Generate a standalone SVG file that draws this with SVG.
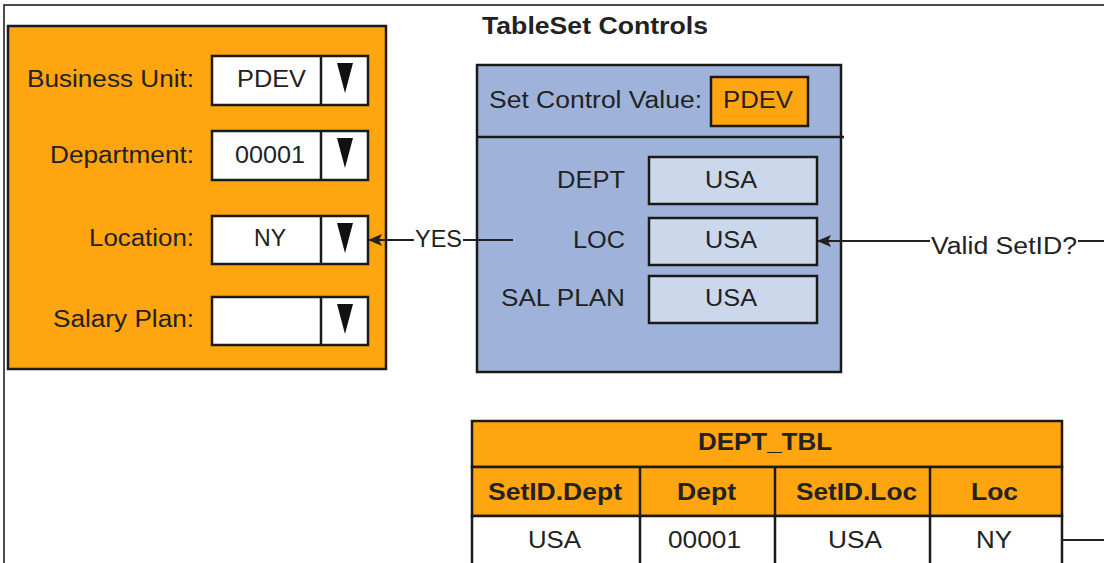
<svg xmlns="http://www.w3.org/2000/svg" width="1104" height="563" viewBox="0 0 1104 563">
<style>
.t{font-family:"Liberation Sans",Arial,sans-serif;font-size:23px;fill:#222}
.b{font-weight:bold}
.bx{stroke:#1a1a1a;stroke-width:2.5}
.or{fill:#FFA50F}
.wh{fill:#fff}
.bl{fill:#9FB3DA}
.lb{fill:#CBD8EB}
.ln{fill:none;stroke:#222;stroke-width:2}
</style>
<defs>
<marker id="ah" markerWidth="14" markerHeight="12" refX="13" refY="6" orient="auto" markerUnits="userSpaceOnUse">
<path d="M0,0 L14,6 L0,12 L3,6 Z" fill="#222"/>
</marker>
</defs>
<rect width="1104" height="563" fill="#fff"/>
<path d="M4,563 V5 H1104" fill="none" stroke="#111" stroke-width="1.5"/>

<g id="page-panel">
<rect class="or bx" x="8" y="26" width="378" height="343"/>
<text class="t" x="27" y="87" textLength="167" lengthAdjust="spacingAndGlyphs">Business Unit:</text>
<text class="t" x="50" y="163" textLength="144" lengthAdjust="spacingAndGlyphs">Department:</text>
<text class="t" x="89" y="246" textLength="105" lengthAdjust="spacingAndGlyphs">Location:</text>
<text class="t" x="53" y="327" textLength="141" lengthAdjust="spacingAndGlyphs">Salary Plan:</text>
<g id="dd-bu">
<rect class="wh bx" x="212" y="56" width="156" height="49"/>
<line class="bx" x1="321" y1="56" x2="321" y2="105"/>
<path d="M337,63 H353 L345,93 Z" fill="#111"/>
<text class="t" x="237" y="87" textLength="69" lengthAdjust="spacingAndGlyphs">PDEV</text>
</g>
<g id="dd-dept">
<rect class="wh bx" x="212" y="131" width="156" height="49"/>
<line class="bx" x1="321" y1="131" x2="321" y2="180"/>
<path d="M337,138 H353 L345,168 Z" fill="#111"/>
<text class="t" x="235" y="163" textLength="70" lengthAdjust="spacingAndGlyphs">00001</text>
</g>
<g id="dd-loc">
<rect class="wh bx" x="212" y="216" width="156" height="48"/>
<line class="bx" x1="321" y1="216" x2="321" y2="264"/>
<path d="M337,223 H353 L345,253 Z" fill="#111"/>
<text class="t" x="254" y="246" textLength="32" lengthAdjust="spacingAndGlyphs">NY</text>
</g>
<g id="dd-sal">
<rect class="wh bx" x="212" y="297" width="156" height="48"/>
<line class="bx" x1="321" y1="297" x2="321" y2="345"/>
<path d="M337,304 H353 L345,334 Z" fill="#111"/>
</g>
</g>

<g id="tableset-controls">
<text class="t b" x="482" y="34" textLength="226" lengthAdjust="spacingAndGlyphs">TableSet Controls</text>
<rect class="bl bx" x="477" y="65" width="364" height="307"/>
<line class="bx" x1="477" y1="137" x2="844" y2="137"/>
<text class="t" x="489" y="108" textLength="213" lengthAdjust="spacingAndGlyphs">Set Control Value:</text>
<rect class="or bx" x="711" y="77" width="97" height="49"/>
<text class="t" x="723" y="108" textLength="70" lengthAdjust="spacingAndGlyphs">PDEV</text>
<text class="t" x="557" y="188" textLength="68" lengthAdjust="spacingAndGlyphs">DEPT</text>
<rect class="lb bx" x="649" y="157" width="168" height="47"/>
<text class="t" x="705" y="188" textLength="52" lengthAdjust="spacingAndGlyphs">USA</text>
<text class="t" x="573" y="248" textLength="52" lengthAdjust="spacingAndGlyphs">LOC</text>
<rect class="lb bx" x="649" y="218" width="168" height="47"/>
<text class="t" x="705" y="248" textLength="52" lengthAdjust="spacingAndGlyphs">USA</text>
<text class="t" x="501" y="306" textLength="124" lengthAdjust="spacingAndGlyphs">SAL PLAN</text>
<rect class="lb bx" x="649" y="276" width="168" height="47"/>
<text class="t" x="705" y="306" textLength="52" lengthAdjust="spacingAndGlyphs">USA</text>
</g>

<g id="dept-tbl">
<rect class="or bx" x="472" y="421" width="590" height="46"/>
<text class="t b" x="698" y="450" textLength="134" lengthAdjust="spacingAndGlyphs">DEPT_TBL</text>
<rect class="or bx" x="472" y="467" width="590" height="49"/>
<rect class="wh bx" x="472" y="516" width="590" height="60"/>
<path class="bx" d="M640,467 V570 M775,467 V570 M930,467 V570" fill="none"/>
<text class="t b" x="488" y="500" textLength="134" lengthAdjust="spacingAndGlyphs">SetID.Dept</text>
<text class="t b" x="677" y="500" textLength="59" lengthAdjust="spacingAndGlyphs">Dept</text>
<text class="t b" x="796" y="500" textLength="121" lengthAdjust="spacingAndGlyphs">SetID.Loc</text>
<text class="t b" x="971" y="500" textLength="47" lengthAdjust="spacingAndGlyphs">Loc</text>
<text class="t" x="528" y="548" textLength="53" lengthAdjust="spacingAndGlyphs">USA</text>
<text class="t" x="668" y="548" textLength="73" lengthAdjust="spacingAndGlyphs">00001</text>
<text class="t" x="828" y="548" textLength="54" lengthAdjust="spacingAndGlyphs">USA</text>
<text class="t" x="976" y="548" textLength="36" lengthAdjust="spacingAndGlyphs">NY</text>
</g>

<g id="connectors">
<path class="ln" d="M513,240 H463 M414,240 H369" marker-end="url(#ah)"/>
<text class="t" x="415" y="247" textLength="47" lengthAdjust="spacingAndGlyphs">YES</text>
<path class="ln" d="M1104,241 H1078 M930,241 H818" marker-end="url(#ah)"/>
<text class="t" x="931" y="254" textLength="146" lengthAdjust="spacingAndGlyphs">Valid SetID?</text>
<path class="ln" d="M1062,540 H1104"/>
</g>
</svg>
